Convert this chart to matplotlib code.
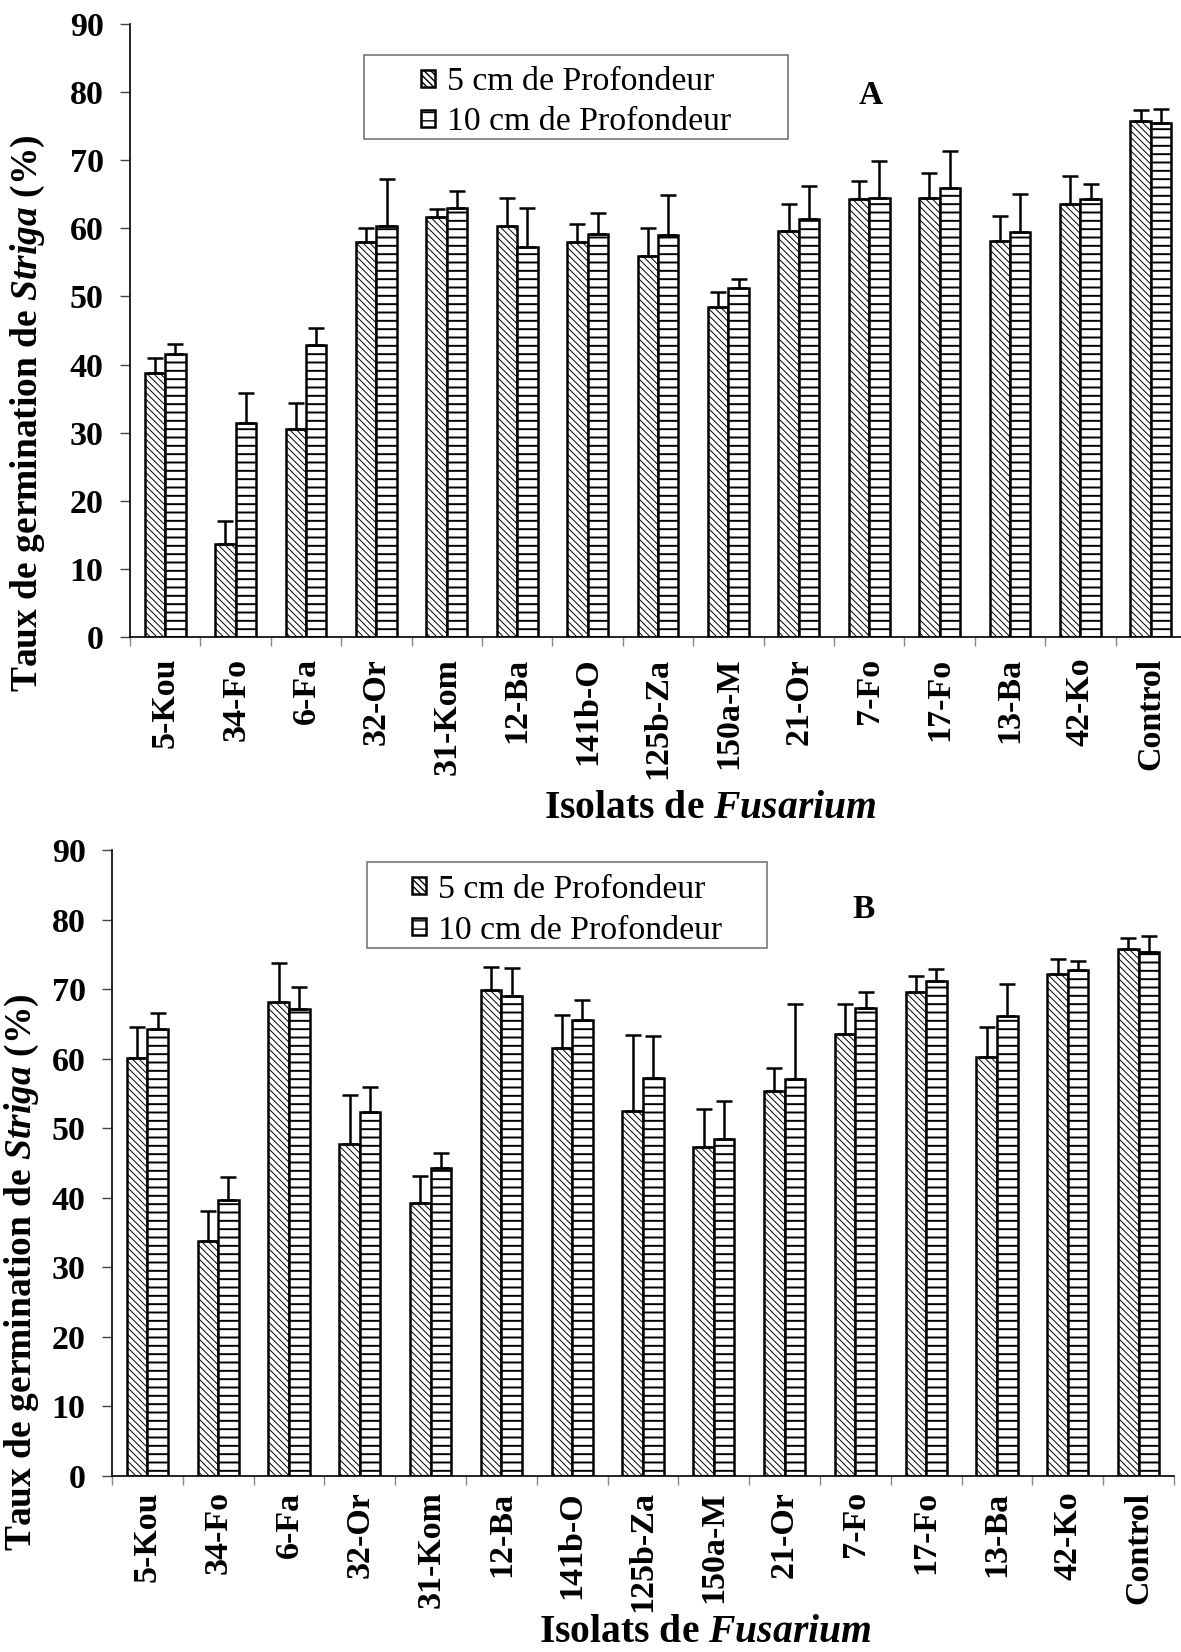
import numpy as np
import matplotlib
matplotlib.use("Agg")
import matplotlib.pyplot as plt
from matplotlib.patches import Rectangle

# fonts: Times-like serif, italic+bold for the latin names
plt.rcParams['font.family'] = ['Liberation Serif', 'DejaVu Serif']
plt.rcParams['mathtext.fontset'] = 'custom'
plt.rcParams['mathtext.it'] = 'Liberation Serif:italic:bold'
plt.rcParams['mathtext.rm'] = 'Liberation Serif:bold'

isolates = ["5-Kou", "34-Fo", "6-Fa", "32-Or", "31-Kom", "12-Ba", "141b-O", "125b-Za",
            "150a-M", "21-Or", "7-Fo", "17-Fo", "13-Ba", "42-Ko", "Control"]
series_labels = ["5 cm de Profondeur", "10 cm de Profondeur"]

# panel A
a_5cm = [38.7, 13.7, 30.5, 58.0, 61.7, 60.4, 58.0, 56.0, 48.4, 59.6, 64.3, 64.5, 58.1, 63.6, 75.8]
a_5cm_err = [2.2, 3.4, 3.9, 2.1, 1.1, 4.1, 2.7, 4.1, 2.3, 4.0, 2.7, 3.6, 3.7, 4.1, 1.6]
a_10cm = [41.5, 31.4, 42.8, 60.4, 63.0, 57.3, 59.1, 59.0, 51.2, 61.4, 64.4, 65.9, 59.4, 64.3, 75.4]
a_10cm_err = [1.5, 4.4, 2.6, 6.9, 2.5, 5.7, 3.1, 5.9, 1.3, 4.8, 5.5, 5.5, 5.7, 2.2, 2.1]

# panel B
b_5cm = [60.1, 33.8, 68.1, 47.8, 39.2, 69.9, 61.5, 52.5, 47.3, 55.3, 63.6, 69.6, 60.3, 72.2, 75.8]
b_5cm_err = [4.5, 4.3, 5.7, 7.0, 4.0, 3.3, 4.8, 10.9, 5.5, 3.4, 4.2, 2.3, 4.2, 2.2, 1.6]
b_10cm = [64.3, 39.7, 67.2, 52.3, 44.3, 69.0, 65.5, 57.2, 48.5, 57.1, 67.3, 71.2, 66.2, 72.7, 75.4]
b_10cm_err = [2.2, 3.3, 3.1, 3.6, 2.2, 4.1, 2.9, 6.0, 5.4, 10.7, 2.3, 1.7, 4.5, 1.4, 2.2]

W, H = 1181, 1652
fig = plt.figure(figsize=(W / 100, H / 100), dpi=100)


def px_box(left, top, right, bottom):
    # pixel box (from top-left) -> figure fraction [l, b, w, h]
    return [left / W, 1 - bottom / H, (right - left) / W, (bottom - top) / H]


def draw_panel(ax, v5, e5, v10, e10, xpad=15):
    x = np.arange(len(isolates))
    w = 0.29
    ekw = dict(ecolor="black", elinewidth=1.8, capsize=5.5, capthick=1.8)
    with plt.rc_context({'hatch.linewidth': 0.7}):
        b1 = ax.bar(x - w / 2, v5, w, color="white", edgecolor="black", linewidth=1.8,
                    hatch="\\\\\\\\\\", yerr=[np.zeros(len(v5)), e5], error_kw=ekw,
                    label=series_labels[0])
    with plt.rc_context({'hatch.linewidth': 1.4}):
        b2 = ax.bar(x + w / 2, v10, w, color="white", edgecolor="black", linewidth=1.8,
                    hatch="--", yerr=[np.zeros(len(v10)), e10], error_kw=ekw,
                    label=series_labels[1])

    ax.set_xlim(-0.5, len(isolates) - 0.5)
    ax.set_ylim(0, 90)
    ax.set_yticks(range(0, 91, 10))
    ax.set_yticklabels([str(v) for v in range(0, 91, 10)], fontsize=24.5, fontweight="bold")
    ax.set_xticks(x)
    ax.set_xticklabels(isolates, rotation=90, fontsize=24.5, fontweight="bold", va="top")
    ax.set_xticks(np.arange(-0.5, len(isolates), 1), minor=True)
    ax.tick_params(axis="x", which="major", length=0, pad=xpad)
    ax.tick_params(axis="x", which="minor", length=6.5, width=1, color="#888888")
    ax.tick_params(axis="y", length=7, width=1, color="#444444", pad=12)
    for s in ["top", "right"]:
        ax.spines[s].set_visible(False)
    ax.spines["left"].set_linewidth(1.2)
    ax.spines["bottom"].set_linewidth(1.2)
    return b1, b2


def draw_legend(handles, hx, top, box, spacing):
    leg = fig.legend(handles, series_labels, loc="upper left",
                     bbox_to_anchor=(hx / W, 1 - top / H), bbox_transform=fig.transFigure,
                     frameon=False, borderpad=0, borderaxespad=0,
                     handlelength=0.4, handleheight=0.4, handletextpad=0.38,
                     labelspacing=spacing, prop={"family": "Liberation Serif", "size": 24.3})
    # box drawn by hand: the legend frame in the source is wider than its content
    l, t, r, b = box
    fig.patches.append(Rectangle((l / W, 1 - b / H), (r - l) / W, (b - t) / H,
                                 transform=fig.transFigure, fill=False,
                                 edgecolor="#777777", linewidth=1.2))
    return leg


ax_a = fig.add_axes(px_box(130, 24, 130 + 15 * 70.4, 637))
ax_b = fig.add_axes(px_box(112, 850, 112 + 15 * 70.8, 1476))

ha = draw_panel(ax_a, a_5cm, a_5cm_err, a_10cm, a_10cm_err)
hb = draw_panel(ax_b, b_5cm, b_5cm_err, b_10cm, b_10cm_err, xpad=11)

draw_legend(ha, 421, 67, (364, 55, 788, 139), 0.28)
draw_legend(hb, 412, 874, (367, 862, 767, 948), 0.32)

fig.text(871 / W, 1 - 95 / H, "A", fontsize=24, fontweight="bold", ha="center", va="center")
fig.text(864 / W, 1 - 910 / H, "B", fontsize=24, fontweight="bold", ha="center", va="center")

# axis titles
ylab = "Taux de germination de $Striga$ (%)"
xlab = "Isolats de $Fusarium$"
fig.text(28 / W, 1 - 413 / H, ylab, rotation=90, fontsize=27, fontweight="bold",
         ha="center", va="center")
fig.text(22 / W, 1 - 1272 / H, ylab, rotation=90, fontsize=27, fontweight="bold",
         ha="center", va="center")
fig.text(710 / W, 1 - 808 / H, xlab, fontsize=28.5, fontweight="bold", ha="center", va="center")
fig.text(705 / W, 1 - 1632 / H, xlab, fontsize=28.5, fontweight="bold", ha="center", va="center")

fig.savefig("out.png", dpi=100)
